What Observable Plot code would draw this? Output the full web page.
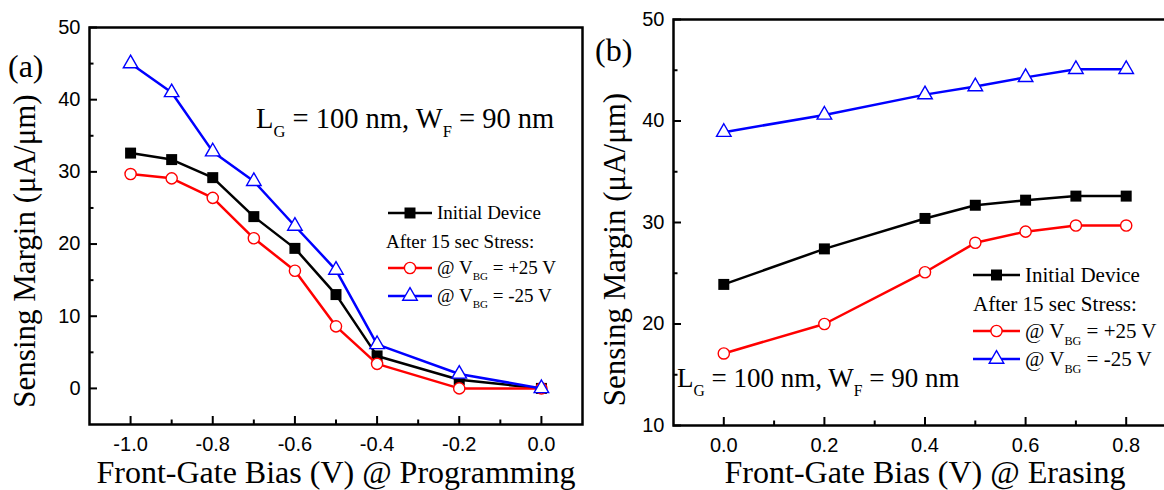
<!DOCTYPE html>
<html><head><meta charset="utf-8">
<script src="https://cdn.jsdelivr.net/npm/d3@7"></script>
<script src="https://cdn.jsdelivr.net/npm/@observablehq/plot@0.6"></script>
<style>
html,body{margin:0;padding:0;background:#fff;overflow:hidden;}
#wrap{position:relative;width:1164px;height:490px;overflow:hidden;background:#fff;}
#pa{position:absolute;left:0;top:0;width:584px;}
#pb{position:absolute;left:580px;top:0;width:600px;}
</style></head><body><div id="wrap"><div id="pa"></div><div id="pb"></div></div>
<script>
// ---- data: panel (a) programming ----
const progBias      = [-1.0, -0.9, -0.8, -0.7, -0.6, -0.5, -0.4, -0.2, 0.0];
const progInitial   = [32.6, 31.7, 29.2, 23.8, 19.4, 13.0, 4.5, 1.2, 0.0];
const progPlus25    = [29.7, 29.1, 26.4, 20.8, 16.3, 8.6, 3.4, 0.0, 0.0];
const progMinus25   = [45.0, 41.0, 32.8, 28.7, 22.5, 16.4, 6.1, 2.0, 0.0];
// ---- data: panel (b) erasing ----
const eraseBias     = [0.0, 0.2, 0.4, 0.5, 0.6, 0.7, 0.8];
const eraseInitial  = [23.9, 27.4, 30.4, 31.7, 32.2, 32.6, 32.6];
const erasePlus25   = [17.1, 20.0, 25.1, 28.0, 29.1, 29.7, 29.7];
const eraseMinus25  = [38.9, 40.6, 42.6, 43.4, 44.3, 45.1, 45.1];
// ---- ticks ----
const progXTicks  = [-1.0, -0.8, -0.6, -0.4, -0.2, 0.0];
const progXMinor  = [-0.9, -0.7, -0.5, -0.3, -0.1];
const progYTicks  = [0, 10, 20, 30, 40, 50];
const progYMinor  = [5, 15, 25, 35, 45];
const eraseXTicks = [0.0, 0.2, 0.4, 0.6, 0.8];
const eraseXMinor = [0.1, 0.3, 0.5, 0.7];
const eraseYTicks = [10, 20, 30, 40, 50];
const eraseYMinor = [15, 25, 35, 45];
// ---- text ----
const yTitle = "Sensing Margin (\u03BCA/\u03BCm)";
const progXTitle = "Front-Gate Bias (V) @ Programming";
const eraseXTitle = "Front-Gate Bias (V) @ Erasing";
const legendHeader = "After 15 sec Stress:";
const seriesLabels = ["Initial Device", "+25 V", "-25 V"];

const SERIF = "'Liberation Serif','Times New Roman',serif";
const SANS = "'Liberation Sans',Arial,sans-serif";
const styles = [
  {stroke: "#000000", symbol: "square", fill: "#000000", r: 6.2, sw: 0},
  {stroke: "#ff0000", symbol: "circle", fill: "#ffffff", r: 5.6, sw: 1.4},
  {stroke: "#0000ff", symbol: "triangle", fill: "#ffffff", r: 5.4, sw: 1.4}
];

function seriesMarks(xs, ys, st) {
  const data = xs.map((x, i) => ({x, y: ys[i]}));
  return [
    Plot.line(data, {x: "x", y: "y", stroke: st.stroke, strokeWidth: 2.5}),
    Plot.dot(data, {x: "x", y: "y", symbol: st.symbol, r: st.r, fill: st.fill, stroke: st.stroke, strokeWidth: st.sw})
  ];
}

function makePanel(cfg) {
  const ph = 490 - cfg.mt - cfg.mb;
  const pw = cfg.width - cfg.ml - cfg.mr;
  const marks = [
    Plot.frame({stroke: "#000", strokeWidth: 2.5}),
    Plot.axisX(cfg.xTicks, {tickSize: 0, tickPadding: 12, tickFormat: d => d.toFixed(1), fontSize: 20, fontFamily: SANS, fill: "#000", label: null}),
    Plot.tickX(cfg.xTicks, {x: d => d, insetTop: ph - 8, stroke: "#000", strokeWidth: 2}),
    Plot.tickX(cfg.xMinor, {x: d => d, insetTop: ph - 4.5, stroke: "#000", strokeWidth: 2}),
    Plot.axisY(cfg.yTicks, {tickSize: 0, tickPadding: 9, tickFormat: d => String(d), fontSize: 20, fontFamily: SANS, fill: "#000", label: null}),
    Plot.tickY(cfg.yTicks, {y: d => d, insetRight: pw - 8, stroke: "#000", strokeWidth: 2}),
    Plot.tickY(cfg.yMinor, {y: d => d, insetRight: pw - 4.5, stroke: "#000", strokeWidth: 2}),
    ...seriesMarks(cfg.x, cfg.s[0], styles[0]),
    ...seriesMarks(cfg.x, cfg.s[1], styles[1]),
    ...seriesMarks(cfg.x, cfg.s[2], styles[2]),
    Plot.text([cfg.xTitle], {frameAnchor: "bottom", textAnchor: "middle", lineAnchor: "middle", dy: cfg.xTitleDy, fontSize: 32, fontFamily: SERIF, fill: "#000"}),
    Plot.text([yTitle], {frameAnchor: "left", textAnchor: "middle", lineAnchor: "middle", rotate: -90, dx: cfg.yTitleDx, dy: cfg.yTitleDy, fontSize: 31, fontFamily: SERIF, fill: "#000"})
  ];
  return Plot.plot({
    width: cfg.width, height: 490,
    marginLeft: cfg.ml, marginRight: cfg.mr, marginTop: cfg.mt, marginBottom: cfg.mb,
    x: {domain: cfg.xDomain, axis: null},
    y: {domain: cfg.yDomain, axis: null},
    style: {background: "transparent", maxWidth: "none", overflow: "visible"},
    marks
  });
}

function addSubText(g, x, y, size, parts) {
  const t = g.append("text").attr("x", x).attr("y", y).attr("text-anchor", "start")
    .attr("font-family", SERIF).attr("font-size", size).attr("fill", "#000");
  parts.forEach(p => {
    const ts = t.append("tspan").text(p.t);
    if (p.sub) ts.attr("font-size", size * 0.58).attr("dy", size * 0.32);
    if (p.back) ts.attr("dy", -size * 0.32);
  });
  return t;
}

function addLegend(svg, L) {
  const g = svg.append("g").attr("text-anchor", "start");
  const rows = [L.y0, L.y2, L.y3];
  rows.forEach((ry, i) => {
    const st = styles[i];
    g.append("line").attr("x1", L.x0).attr("x2", L.x1).attr("y1", ry).attr("y2", ry)
      .attr("stroke", st.stroke).attr("stroke-width", 2.5);
    const sym = {square: d3.symbolSquare, circle: d3.symbolCircle, triangle: d3.symbolTriangle}[st.symbol];
    g.append("path").attr("d", d3.symbol(sym, Math.PI * st.r * st.r)())
      .attr("transform", `translate(${(L.x0 + L.x1) / 2},${ry})`)
      .attr("fill", st.fill).attr("stroke", st.stroke).attr("stroke-width", st.sw);
  });
  const tx = L.x1 + 5;
  g.append("text").attr("x", tx).attr("y", L.y0 + L.fs * 0.33).attr("text-anchor", "start").attr("font-family", SERIF)
    .attr("font-size", L.fs).attr("fill", "#000").text(seriesLabels[0]);
  g.append("text").attr("x", L.hx).attr("y", L.y1 + L.fs * 0.33).attr("text-anchor", "start").attr("font-family", SERIF)
    .attr("font-size", L.fs).attr("fill", "#000").text(legendHeader);
  [1, 2].forEach(i => {
    addSubText(g, tx, rows[i] + L.fs * 0.33, L.fs, [
      {t: "@ V"}, {t: "BG", sub: true}, {t: " = " + seriesLabels[i], back: true}
    ]);
  });
}

// ---- panel (a) ----
const pa = makePanel({
  width: 584, ml: 89, mr: 2, mt: 27, mb: 66,
  xDomain: [-1.1, 0.1], yDomain: [-5, 50],
  x: progBias, s: [progInitial, progPlus25, progMinus25],
  xTicks: progXTicks, xMinor: progXMinor, yTicks: progYTicks, yMinor: progYMinor,
  xTitle: progXTitle, xTitleDy: 48, yTitleDx: -64, yTitleDy: 25
});
document.getElementById("pa").appendChild(pa);
{
  const svg = d3.select(pa);
  svg.append("text").attr("x", 8).attr("y", 77).attr("text-anchor", "start").attr("font-family", SERIF).attr("font-size", 32).attr("fill", "#000").text("(a)");
  addSubText(svg, 256, 128, 28.5, [{t: "L"}, {t: "G", sub: true}, {t: " = 100 nm, W", back: true}, {t: "F", sub: true}, {t: " = 90 nm", back: true}]);
  addLegend(svg, {x0: 388, x1: 432, y0: 213, y1: 242, y2: 268, y3: 296, hx: 386, fs: 19});
}

// ---- panel (b) ----
const pb = makePanel({
  width: 597, ml: 93, mr: 1, mt: 19, mb: 65,
  xDomain: [-0.1, 0.9], yDomain: [10, 50],
  x: eraseBias, s: [eraseInitial, erasePlus25, eraseMinus25],
  xTicks: eraseXTicks, xMinor: eraseXMinor, yTicks: eraseYTicks, yMinor: eraseYMinor,
  xTitle: eraseXTitle, xTitleDy: 47, yTitleDx: -58, yTitleDy: 27
});
document.getElementById("pb").appendChild(pb);
{
  const svg = d3.select(pb);
  svg.append("text").attr("x", 15).attr("y", 61).attr("text-anchor", "start").attr("font-family", SERIF).attr("font-size", 32).attr("fill", "#000").text("(b)");
  addSubText(svg, 97, 387, 27, [{t: "L"}, {t: "G", sub: true}, {t: " = 100 nm, W", back: true}, {t: "F", sub: true}, {t: " = 90 nm", back: true}]);
  addLegend(svg, {x0: 393, x1: 440, y0: 275, y1: 304, y2: 331, y3: 359, hx: 393, fs: 21});
}
</script>
</body></html>
